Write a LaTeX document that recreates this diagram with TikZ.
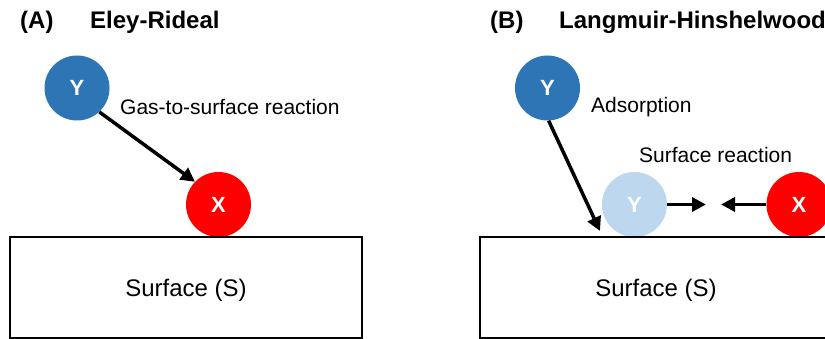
\documentclass[tikz,border=0pt]{standalone}
\usepackage{fontspec}
\setmainfont{Liberation Sans}
\usetikzlibrary{arrows.meta}
\definecolor{ballblue}{HTML}{2E75B6}
\definecolor{ballred}{HTML}{FF0000}
\definecolor{balllight}{HTML}{BDD7EE}
\begin{document}
\begin{tikzpicture}[x=1pt,y=-1pt,
  ball/.style={circle,minimum size=65pt,inner sep=0pt,text=white,font=\fontsize{22}{26}\selectfont\bfseries},
  title/.style={anchor=west,inner sep=0pt,font=\fontsize{24}{28}\selectfont\bfseries},
  lbl/.style={anchor=west,inner sep=0pt,font=\fontsize{21}{25}\selectfont},
  surf/.style={draw=black,line width=2pt},
  surflbl/.style={inner sep=0pt,font=\fontsize{24}{28}\selectfont},
  arr/.style={line width=3.5pt,-{Triangle[length=14pt,width=14pt]}}]
\useasboundingbox (0,0) rectangle (825,339);
\clip (0,0) rectangle (825,339);
% Panel A
\node[title] (tA) at (20,22) {(A)};
\node[title] (nA) at (90,22) {Eley-Rideal};
\node[ball,fill=ballblue] (YA) at (77,88) {Y};
\node[ball,fill=ballred] (XA) at (218.5,204.5) {X};
\node[lbl] (gA) at (120,107) {Gas-to-surface reaction};
\draw[surf] (10,237) rectangle (362,338);
\node[surflbl] (sA) at (186,290) {Surface (S)};
\draw[arr] (YA.-47) -- (XA.136);
% Panel B
\node[title] (tB) at (490,22) {(B)};
\node[title] (nB) at (559,22) {Langmuir-Hinshelwood};
\node[ball,fill=ballblue] (YB) at (547.5,88) {Y};
\node[ball,fill=balllight] (YL) at (634.5,204.5) {Y};
\node[ball,fill=ballred] (XB) at (799,204.5) {X};
\node[lbl] (aB) at (591,107) {Adsorption};
\node[lbl] (rB) at (639,155) {Surface reaction};
\draw[surf] (480,237) rectangle (840,338);
\node[surflbl] (sB) at (656,290) {Surface (S)};
\coordinate (tipB) at (600,231);
\coordinate (tipR) at (706,204.5);
\coordinate (tipL) at (721,204.5);
\draw[arr] (YB.-88) -- (tipB);
\draw[arr] (YL.east) -- (tipR);
\draw[arr] (XB.west) -- (tipL);
\end{tikzpicture}
\end{document}
